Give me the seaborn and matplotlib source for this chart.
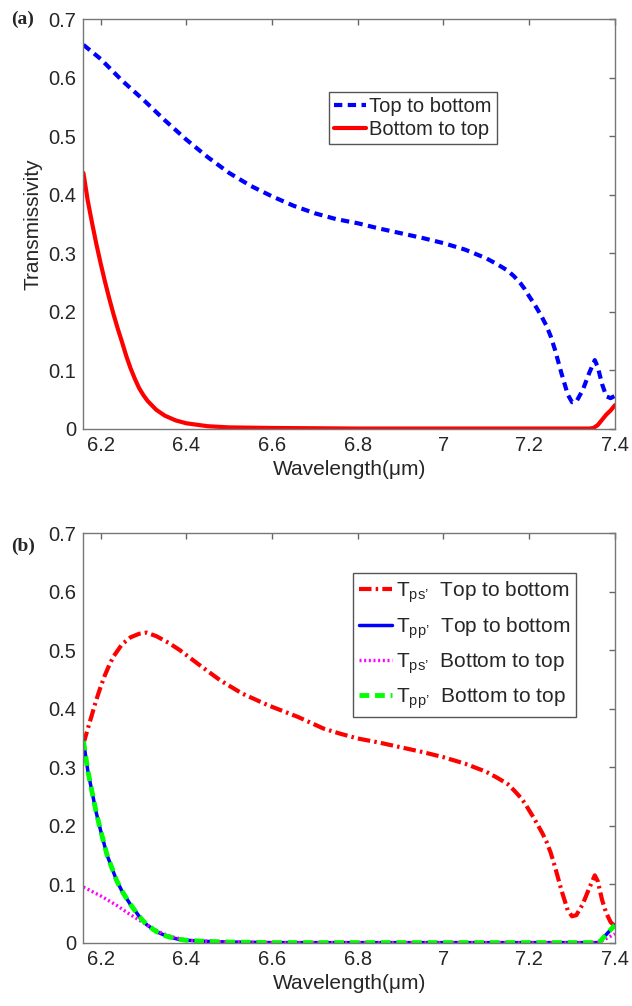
import matplotlib
matplotlib.use('Agg')
import matplotlib.pyplot as plt
import matplotlib.ticker as mticker
import seaborn as sns
import numpy as np
import pandas as pd

# ---- panel (a) ----
wl_a_top = [6.16, 6.20, 6.25, 6.30, 6.35, 6.40, 6.45, 6.50, 6.55, 6.60, 6.65, 6.70,
            6.75, 6.80, 6.85, 6.90, 6.95, 7.00, 7.05, 7.10, 7.125, 7.15, 7.165, 7.18,
            7.19, 7.20, 7.21, 7.22, 7.23, 7.24, 7.25, 7.26, 7.275, 7.29, 7.30, 7.31,
            7.325, 7.34, 7.353, 7.36, 7.37, 7.38, 7.39, 7.40]
t_a_top = [0.656, 0.632, 0.595, 0.562, 0.527, 0.494, 0.464, 0.437, 0.415, 0.397, 0.381,
           0.368, 0.358, 0.351, 0.342, 0.334, 0.326, 0.317, 0.306, 0.291, 0.281, 0.270,
           0.260, 0.248, 0.238, 0.226, 0.215, 0.203, 0.190, 0.176, 0.158, 0.135, 0.095,
           0.058, 0.045, 0.046, 0.066, 0.095, 0.117, 0.105, 0.076, 0.055, 0.052, 0.056]

wl_a_bot = [6.16, 6.17, 6.18, 6.19, 6.20, 6.21, 6.22, 6.23, 6.24, 6.25, 6.26, 6.27,
            6.28, 6.29, 6.30, 6.31, 6.33, 6.35, 6.375, 6.40, 6.45, 6.50, 6.60, 6.80,
            7.00, 7.20, 7.34, 7.35, 7.36, 7.37, 7.38, 7.39, 7.40]
t_a_bot = [0.437, 0.390, 0.352, 0.316, 0.283, 0.252, 0.223, 0.196, 0.171, 0.148, 0.124,
           0.103, 0.085, 0.069, 0.057, 0.047, 0.032, 0.022, 0.014, 0.009, 0.004, 0.002,
           0.001, 0.0, 0.0, 0.0, 0.0, 0.001, 0.006, 0.015, 0.024, 0.031, 0.040]

# ---- panel (b) ----
wl_ps_top = [6.16, 6.17, 6.18, 6.19, 6.20, 6.21, 6.22, 6.23, 6.25, 6.27, 6.29, 6.307,
             6.33, 6.36, 6.385, 6.43, 6.48, 6.53, 6.59, 6.66, 6.72, 6.76, 6.80, 6.85,
             6.90, 6.95, 7.00, 7.05, 7.10, 7.125, 7.15, 7.165, 7.18, 7.19, 7.20, 7.21,
             7.22, 7.23, 7.24, 7.25, 7.26, 7.275, 7.29, 7.30, 7.31, 7.325, 7.34, 7.353,
             7.36, 7.37, 7.38, 7.39, 7.40]
t_ps_top = [0.340, 0.365, 0.390, 0.415, 0.437, 0.457, 0.474, 0.489, 0.510, 0.522, 0.528,
            0.530, 0.524, 0.512, 0.500, 0.475, 0.448, 0.426, 0.406, 0.386, 0.366, 0.357,
            0.349, 0.342, 0.334, 0.326, 0.317, 0.306, 0.292, 0.282, 0.271, 0.260, 0.248,
            0.238, 0.226, 0.214, 0.201, 0.188, 0.173, 0.154, 0.130, 0.090, 0.055, 0.045,
            0.047, 0.066, 0.093, 0.115, 0.105, 0.073, 0.050, 0.035, 0.028]

wl_pp = [6.16, 6.17, 6.18, 6.19, 6.20, 6.215, 6.237, 6.25, 6.268, 6.29, 6.307, 6.33,
         6.354, 6.38, 6.40, 6.45, 6.50, 6.60, 6.80, 7.00, 7.20, 7.36, 7.365, 7.375,
         7.385, 7.395, 7.40]
t_pp_top = [0.345, 0.295, 0.258, 0.222, 0.192, 0.150, 0.107, 0.088, 0.067, 0.045, 0.031,
            0.019, 0.011, 0.006, 0.004, 0.002, 0.001, 0.0, 0.0, 0.0, 0.0, 0.0, 0.002,
            0.010, 0.018, 0.026, 0.030]
t_pp_bot = [0.345, 0.295, 0.258, 0.222, 0.192, 0.150, 0.107, 0.088, 0.067, 0.045, 0.031,
            0.019, 0.011, 0.006, 0.004, 0.002, 0.001, 0.0, 0.0, 0.0, 0.0, 0.0, 0.002,
            0.010, 0.018, 0.026, 0.030]

wl_ps_bot = [6.16, 6.20, 6.237, 6.265, 6.291, 6.315, 6.338, 6.365, 6.39, 6.42, 6.50,
             6.60, 6.80, 7.00, 7.20, 7.36, 7.37, 7.38, 7.39, 7.40]
t_ps_bot = [0.095, 0.080, 0.064, 0.050, 0.038, 0.027, 0.018, 0.010, 0.006, 0.003, 0.001,
            0.0, 0.0, 0.0, 0.0, 0.0, 0.003, 0.007, 0.011, 0.015]

xticks = [6.2, 6.4, 6.6, 6.8, 7.0, 7.2, 7.4]
yticks = [0, 0.1, 0.2, 0.3, 0.4, 0.5, 0.6, 0.7]

sns.set_style('white')
plt.rcParams['font.family'] = ['Liberation Sans', 'DejaVu Sans']
plt.rcParams['mathtext.fontset'] = 'custom'
plt.rcParams['mathtext.rm'] = 'Liberation Sans'
plt.rcParams['mathtext.it'] = 'Liberation Sans'

fig = plt.figure(figsize=(6.32, 10.06), dpi=100)
ax_a = fig.add_axes([0.132, 0.574, 0.841, 0.407])
ax_b = fig.add_axes([0.132, 0.063, 0.841, 0.407])

sns.lineplot(x=wl_a_top, y=t_a_top, ax=ax_a, color='#0000ff', lw=3,
             linestyle=(0, (2.0, 1.3)), label='Top to bottom')
sns.lineplot(x=wl_a_bot, y=t_a_bot, ax=ax_a, color='#ff0000', lw=3,
             label='Bottom to top')

sns.lineplot(x=wl_ps_top, y=t_ps_top, ax=ax_b, color='#ff0000', lw=3,
             linestyle=(0, (3.0, 1.0, 0.6, 1.0)),
             label="T$_{\\mathregular{ps’}}$  Top to bottom")
sns.lineplot(x=wl_pp, y=t_pp_top, ax=ax_b, color='#0000ff', lw=2.5,
             label="T$_{\\mathregular{pp’}}$  Top to bottom")
sns.lineplot(x=wl_ps_bot, y=t_ps_bot, ax=ax_b, color='#ff00ff', lw=2.4,
             linestyle=(0, (0.6, 0.8)),
             label="T$_{\\mathregular{ps’}}$  Bottom to top")
sns.lineplot(x=wl_pp, y=t_pp_bot, ax=ax_b, color='#00ff00', lw=3.5,
             linestyle=(0, (2.0, 1.2)),
             label="T$_{\\mathregular{pp’}}$  Bottom to top")

for ax in (ax_a, ax_b):
    ax.set_xlim(6.16, 7.4)
    ax.set_ylim(0, 0.7)
    ax.set_xticks(xticks)
    ax.set_yticks(yticks)
    ax.xaxis.set_major_formatter(mticker.FormatStrFormatter('%g'))
    ax.yaxis.set_major_formatter(mticker.FormatStrFormatter('%g'))
    ax.tick_params(direction='in', length=4, width=1, color='#666666',
                   top=True, right=True, labelsize=14.5, pad=5)
    for sp in ax.spines.values():
        sp.set_color('#777777')
        sp.set_linewidth(1)
    ax.set_xlabel('Wavelength(μm)', fontsize=15, labelpad=4)

ax_a.set_ylabel('Transmissivity', fontsize=15, labelpad=4)
ax_b.set_ylabel('')

ax_a.legend(loc='upper left', bbox_to_anchor=(0.462, 0.822), borderaxespad=0,
            fontsize=14.5, frameon=True, fancybox=False, edgecolor='#555555',
            handlelength=1.6, handletextpad=0.15, borderpad=0.25, labelspacing=0.2)
leg = ax_b.legend(loc='upper left', bbox_to_anchor=(0.507, 0.902), borderaxespad=0,
                  fontsize=15, frameon=True, fancybox=False, edgecolor='#555555',
                  handlelength=1.6, handletextpad=0.15, borderpad=0.3, labelspacing=0.5)
for fr in (ax_a.get_legend().get_frame(), leg.get_frame()):
    fr.set_linewidth(1)
    fr.set_alpha(1)

fig.text(0.036, 0.981, '(a)', fontsize=14, fontweight='bold',
         family=['Liberation Serif'], ha='center', va='center')
fig.text(0.036, 0.457, '(b)', fontsize=14, fontweight='bold',
         family=['Liberation Serif'], ha='center', va='center')

fig.savefig('out.png', dpi=100)
